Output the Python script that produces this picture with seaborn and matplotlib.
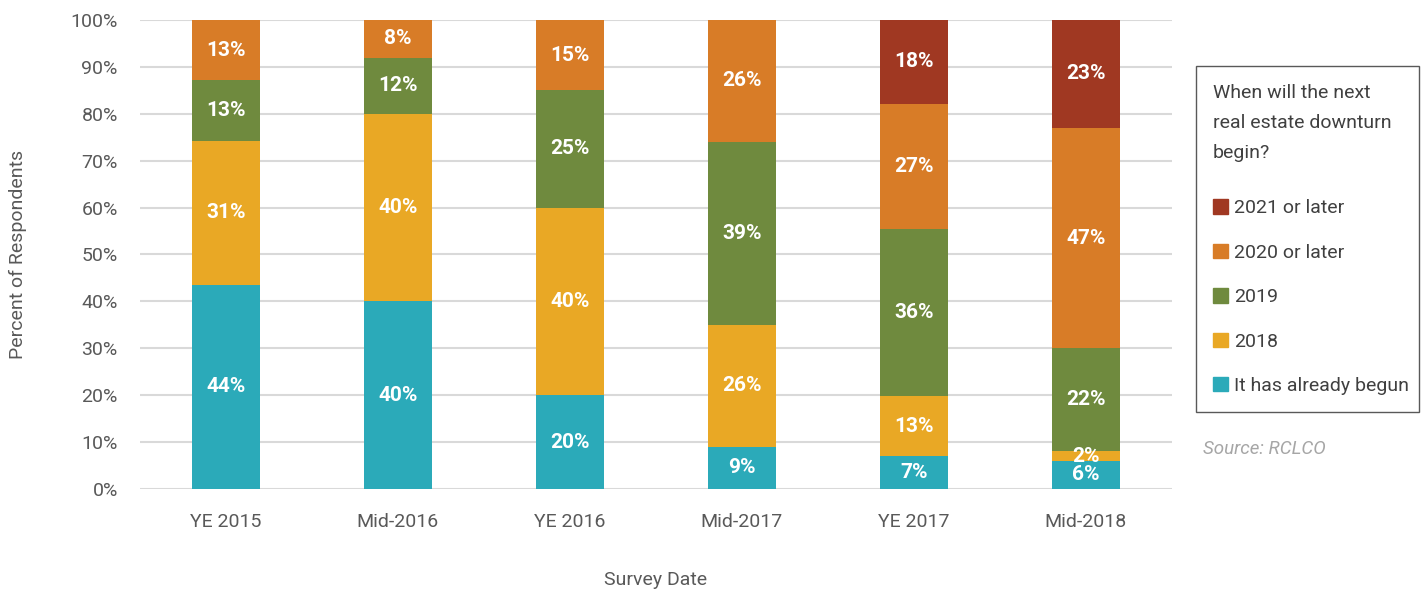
import matplotlib.pyplot as plt
import matplotlib.patches as mpatches
import numpy as np
import pandas as pd
import seaborn as sns

# Survey data (percent of respondents, as printed on the chart)
dates = ['YE 2015', 'Mid-2016', 'YE 2016', 'Mid-2017', 'YE 2017', 'Mid-2018']
already_begun = [44, 40, 20, 9, 7, 6]
y2018 = [31, 40, 40, 26, 13, 2]
y2019 = [13, 12, 25, 39, 36, 22]
y2020_later = [13, 8, 15, 26, 27, 47]
y2021_later = [0, 0, 0, 0, 18, 23]

series = ['It has already begun', '2018', '2019', '2020 or later', '2021 or later']
colors = ['#2BAAB9', '#E9A825', '#6F8A3E', '#D87C27', '#A03822']

sns.set_theme(style='white')
plt.rcParams['font.family'] = ['Roboto', 'DejaVu Sans']

df = pd.DataFrame({'date': dates, series[0]: already_begun, series[1]: y2018,
                   series[2]: y2019, series[3]: y2020_later, series[4]: y2021_later})
vals = df[series].astype(float)
# 100% stacked: normalise each survey to its total
pct = vals.div(vals.sum(axis=1), axis=0) * 100
cum = pct.cumsum(axis=1)

W, H = 1425, 593
fig = plt.figure(figsize=(W / 100, H / 100), dpi=100)
ax = fig.add_axes([140 / W, 1 - 489 / H, (1172 - 140) / W, (489 - 20) / H])

# draw cumulative tops from the highest layer down so each layer covers the one above
for i in range(len(series) - 1, -1, -1):
    sns.barplot(x=df['date'], y=cum[series[i]], color=colors[i], width=0.395,
                saturation=1, ax=ax, zorder=3, linewidth=0)

# segment labels
for j in range(len(dates)):
    for i, s in enumerate(series):
        v = df[s][j]
        if v == 0:
            continue
        mid = cum[s][j] - pct[s][j] / 2
        ax.text(j, mid, f'{v}%', ha='center', va='center', color='white',
                fontsize=15, fontweight='bold', zorder=4)

ax.set_ylim(0, 100)
ax.set_xlim(-0.5, len(dates) - 0.5)
ax.set_yticks(np.arange(0, 101, 10))
ax.set_yticklabels([f'{t}%' for t in range(0, 101, 10)])
ax.yaxis.grid(True, color='#D9D9D9', linewidth=1.5, zorder=0)
ax.set_axisbelow(True)
for sp in ax.spines.values():
    sp.set_visible(False)
ax.tick_params(axis='both', length=0, labelsize=14, colors='#595959')
ax.tick_params(axis='y', pad=16)
ax.tick_params(axis='x', pad=17)
ax.set_xlabel('Survey Date', fontsize=14, color='#595959', labelpad=29)
ax.set_ylabel('Percent of Respondents', fontsize=14, color='#595959', labelpad=31)

# legend box
fig.add_artist(mpatches.Rectangle((1196 / W, 1 - 412 / H), 223 / W, 346 / H,
                                  transform=fig.transFigure, fill=False,
                                  edgecolor='#595959', linewidth=1.0))
handles = [mpatches.Patch(color=colors[i], label=series[i]) for i in range(len(series) - 1, -1, -1)]
leg = fig.legend(handles=handles, loc='upper left', bbox_to_anchor=(1213 / W, 1 - 84 / H),
                 title='When will the next\nreal estate downturn\nbegin?', title_fontsize=14,
                 fontsize=14, frameon=False, handlelength=0.75, handleheight=0.75,
                 handletextpad=0.35, labelspacing=1.36, borderpad=0, borderaxespad=0,
                 alignment='left', labelcolor='#404040')
leg.get_title().set_color('#404040')
leg.get_title().set_linespacing(1.85)
leg._legend_box.sep = 27

fig.text(1203 / W, 1 - 449 / H, 'Source: RCLCO', fontsize=13.5, style='italic',
         color='#A6A6A6', ha='left', va='center')

fig.savefig('out.png', dpi=100)
